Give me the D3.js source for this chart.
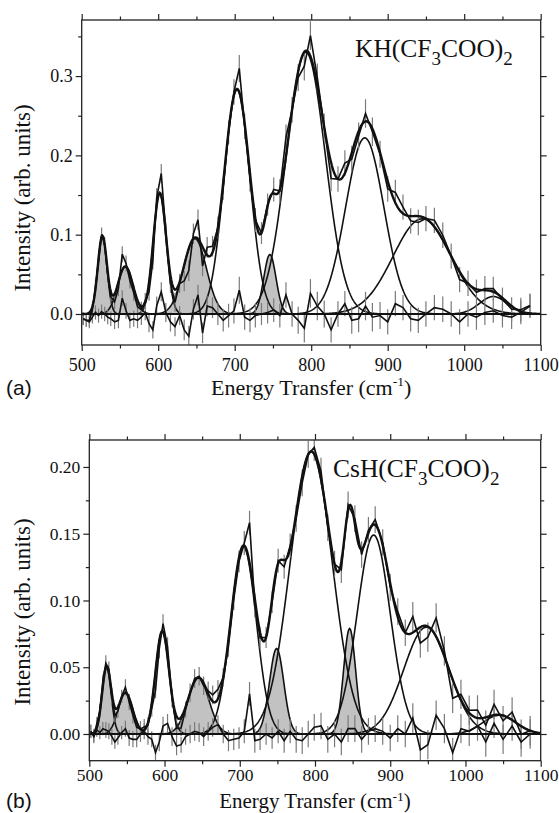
<!DOCTYPE html>
<html><head><meta charset="utf-8">
<script src="https://cdn.jsdelivr.net/npm/d3@7"></script>
<style>body{margin:0;background:#fff}svg{display:block}</style>
</head><body>
<svg id="c" width="559" height="813"></svg>
<script>
// ---------- data ----------
const energies = [502,506,510,514,518,522,526,530,534,538,543,548,553,558,563,568,573,578,583,588,593,598,
  604,610,616,622,628,634,640,646,652,658,664,671,678,685,692,699,
  706,713,720,727,735,743,751,759,767,775,783,791,799,
  808,817,826,835,844,853,862,871,880,890,900,
  910,920,930,940,950,961,972,983,994,
  1005,1016,1027,1038,1050,1062,1074,1086];

// Panel (a) KH(CF3COO)2 : fitted Gaussian components
const centersA = [527, 557, 602, 648, 703, 746, 793, 870, 945, 1038];
const heightsA = [0.098, 0.060, 0.152, 0.095, 0.283, 0.075, 0.330, 0.222, 0.120, 0.022];
const widthsA  = [6, 10, 8.5, 15, 17, 8, 25.5, 25, 38, 18];
const shadedA  = [1, 1, 0, 1, 0, 1, 0, 0, 0, 0];
const residA = [-0.006,-0.008,-0.010,-0.004,0.002,-0.002,0.003,0.000,-0.004,-0.006,-0.010,-0.008,0.020,0.004,-0.008,-0.006,-0.008,-0.004,0.002,-0.012,-0.020,0.010,
  0.028,0.002,-0.010,-0.016,-0.002,-0.020,-0.028,0.006,0.024,-0.024,0.010,0.008,0.000,-0.008,-0.002,0.004,
  0.030,-0.004,-0.008,-0.002,0.000,0.002,0.005,-0.002,0.024,0.000,-0.008,-0.018,0.026,
  0.010,0.000,-0.020,0.000,0.013,-0.008,-0.006,0.010,-0.004,-0.002,-0.010,
  0.013,0.008,-0.006,-0.008,0.000,0.008,0.006,0.000,-0.010,
  0.000,-0.004,0.002,0.004,-0.002,-0.004,0.002,0.010];
const errA = [0.008,0.008,0.008,0.008,0.009,0.009,0.009,0.009,0.009,0.009,0.009,0.010,0.010,0.010,0.010,0.010,0.010,0.010,0.010,0.011,0.011,0.012,
  0.012,0.012,0.012,0.012,0.012,0.013,0.013,0.013,0.013,0.013,0.013,0.013,0.014,0.014,0.015,0.016,
  0.017,0.016,0.015,0.015,0.014,0.014,0.015,0.015,0.016,0.016,0.017,0.018,0.018,
  0.018,0.017,0.016,0.016,0.016,0.017,0.017,0.018,0.018,0.017,0.016,
  0.016,0.016,0.016,0.016,0.016,0.016,0.016,0.016,0.016,
  0.016,0.016,0.016,0.015,0.015,0.015,0.015,0.015];

// Panel (b) CsH(CF3COO)2
const centersB = [523, 548, 597, 645, 705, 749, 795, 846, 878, 948, 1045];
const heightsB = [0.050, 0.031, 0.077, 0.042, 0.140, 0.064, 0.2115, 0.079, 0.149, 0.080, 0.014];
const widthsB  = [6, 9.5, 9, 14, 17, 9.5, 28, 8, 22, 30, 22];
const shadedB  = [1, 1, 0, 1, 0, 1, 0, 1, 0, 0, 0];
const residB = [0.002,-0.002,0.003,0.001,0.004,0.003,0.002,-0.002,-0.006,-0.003,0.001,0.004,-0.003,-0.004,-0.004,0.000,0.002,-0.002,-0.004,-0.014,-0.006,0.006,
  0.008,-0.002,-0.009,-0.008,-0.002,0.000,0.002,0.001,-0.002,0.002,0.005,0.007,0.000,-0.005,-0.004,-0.003,
  0.002,0.030,-0.005,-0.004,0.000,-0.003,0.002,-0.005,0.002,-0.004,-0.005,0.000,0.005,
  0.006,-0.004,0.000,-0.006,0.004,0.004,-0.004,0.002,0.004,0.002,-0.003,
  0.004,0.000,0.012,-0.012,-0.008,0.014,0.004,-0.014,0.004,
  0.002,0.006,-0.006,0.008,-0.004,0.006,-0.006,0.000];
const errB = [0.005,0.005,0.005,0.005,0.005,0.006,0.006,0.006,0.005,0.005,0.005,0.006,0.006,0.006,0.006,0.006,0.006,0.006,0.006,0.006,0.007,0.007,
  0.007,0.007,0.007,0.006,0.006,0.007,0.007,0.007,0.007,0.007,0.007,0.007,0.007,0.008,0.008,0.008,
  0.009,0.009,0.009,0.008,0.008,0.008,0.009,0.009,0.009,0.010,0.010,0.010,0.010,
  0.010,0.010,0.010,0.010,0.010,0.010,0.010,0.010,0.010,0.010,0.010,
  0.010,0.010,0.011,0.011,0.011,0.011,0.011,0.011,0.011,
  0.011,0.011,0.011,0.011,0.011,0.011,0.011,0.011];

// ticks
const xMajor = [500,600,700,800,900,1000,1100];
const xMajorLabels = ["500","600","700","800","900","1000","1100"];
const xMinor = [550,650,750,850,950,1050];
const yMajorA = [0,0.1,0.2,0.3], yMajorLabelsA = ["0.0","0.1","0.2","0.3"], yMinorA = [0.05,0.15,0.25,0.35];
const yMajorB = [0,0.05,0.10,0.15,0.20], yMajorLabelsB = ["0.00","0.05","0.10","0.15","0.20"], yMinorB = [0.025,0.075,0.125,0.175];

// ---------- drawing ----------
const svg = d3.select("#c");
const SERIF = "'Liberation Serif','Times New Roman',serif";

function drawPanel(cfg){
  const x = d3.scaleLinear().domain([500,1100]).range([cfg.left, cfg.right]);
  const y = d3.scaleLinear().domain(cfg.ydom).range([cfg.bottom, cfg.top]);
  const g = svg.append("g");
  const clipId = "clip"+cfg.id;
  svg.append("clipPath").attr("id", clipId).append("rect")
    .attr("x", cfg.left).attr("y", cfg.top).attr("width", cfg.right-cfg.left).attr("height", cfg.bottom-cfg.top);
  const pg = g.append("g").attr("clip-path", `url(#${clipId})`);

  const comps = cfg.centers.map((c,i)=>({c, h:cfg.heights[i], s:cfg.widths[i], shaded:cfg.shaded[i]}));
  const gauss = (p,E)=> p.h*Math.exp(-((E-p.c)*(E-p.c))/(2*p.s*p.s));
  const fit = E => d3.sum(comps, p=>gauss(p,E));
  const curveE = d3.range(500, 1100.01, 1);
  const line = d3.line().x(d=>x(d[0])).y(d=>y(d[1]));

  // shaded components
  comps.filter(p=>p.shaded).forEach(p=>{
    const pts = curveE.filter(E=>Math.abs(E-p.c)<5*p.s).map(E=>[E,gauss(p,E)]);
    pg.append("path").datum(pts)
      .attr("d", d3.area().x(d=>x(d[0])).y0(y(0)).y1(d=>y(d[1])))
      .attr("fill","#c2c2c2").attr("stroke","none");
  });
  // component outlines
  comps.forEach(p=>{
    pg.append("path").datum(curveE.map(E=>[E,gauss(p,E)]))
      .attr("d", line).attr("fill","none").attr("stroke","#111").attr("stroke-width",1.6);
  });

  const data = energies.map((E,i)=>({E, v: fit(E)+cfg.resid[i], r: cfg.resid[i], e: cfg.err[i]}));
  // error bars (data and residuals)
  pg.append("g").selectAll("line").data(data).join("line")
    .attr("x1",d=>x(d.E)).attr("x2",d=>x(d.E))
    .attr("y1",d=>y(d.v-d.e)).attr("y2",d=>y(d.v+d.e))
    .attr("stroke","#7a7a7a").attr("stroke-width",1.2);
  pg.append("g").selectAll("line").data(data).join("line")
    .attr("x1",d=>x(d.E)).attr("x2",d=>x(d.E))
    .attr("y1",d=>y(d.r-d.e)).attr("y2",d=>y(d.r+d.e))
    .attr("stroke","#7a7a7a").attr("stroke-width",1.2);

  // zero line
  pg.append("line").attr("x1",cfg.left).attr("x2",cfg.right).attr("y1",y(0)).attr("y2",y(0))
    .attr("stroke","#111").attr("stroke-width",1.8);
  // data line
  pg.append("path").datum(data.map(d=>[d.E,d.v])).attr("d",line)
    .attr("fill","none").attr("stroke","#111").attr("stroke-width",1.6);
  // residual line
  pg.append("path").datum(data.map(d=>[d.E,d.r])).attr("d",line)
    .attr("fill","none").attr("stroke","#111").attr("stroke-width",1.6);
  // total fit
  pg.append("path").datum(curveE.map(E=>[E,fit(E)])).attr("d",line)
    .attr("fill","none").attr("stroke","#111").attr("stroke-width",2.4);

  // frame
  g.append("rect").attr("x",cfg.left).attr("y",cfg.top).attr("width",cfg.right-cfg.left).attr("height",cfg.bottom-cfg.top)
    .attr("fill","none").attr("stroke","#222").attr("stroke-width",1.3);

  // axes
  const styleAxis = sel => { sel.attr("font-family",SERIF).attr("font-size",cfg.tickFont);
    sel.select(".domain").remove(); sel.selectAll(".tick line").attr("stroke","#222").attr("stroke-width",1.2);
    sel.selectAll("text").attr("font-family",SERIF).attr("font-size",cfg.tickFont).attr("fill","#111"); };
  const ax = (gen, tr) => g.append("g").attr("transform",tr).call(gen).call(styleAxis);
  ax(d3.axisBottom(x).tickValues(xMajor).tickSize(6).tickPadding(cfg.xpad).tickFormat((d,i)=>xMajorLabels[i]), `translate(0,${cfg.bottom})`);
  ax(d3.axisBottom(x).tickValues(xMinor).tickSize(3.5).tickFormat(""), `translate(0,${cfg.bottom})`);
  ax(d3.axisTop(x).tickValues(xMajor).tickSize(6).tickFormat(""), `translate(0,${cfg.top})`);
  ax(d3.axisTop(x).tickValues(xMinor).tickSize(3.5).tickFormat(""), `translate(0,${cfg.top})`);
  ax(d3.axisLeft(y).tickValues(cfg.yMajor).tickSize(6).tickPadding(3).tickFormat((d,i)=>cfg.yLabels[i]), `translate(${cfg.left},0)`);
  ax(d3.axisLeft(y).tickValues(cfg.yMinor).tickSize(3.5).tickFormat(""), `translate(${cfg.left},0)`);
  ax(d3.axisRight(y).tickValues(cfg.yMajor).tickSize(6).tickFormat(""), `translate(${cfg.right},0)`);
  ax(d3.axisRight(y).tickValues(cfg.yMinor).tickSize(3.5).tickFormat(""), `translate(${cfg.right},0)`);

  // axis titles
  g.append("text").attr("transform",`translate(${cfg.ytitleX},${cfg.ytitleY}) rotate(-90)`)
    .attr("text-anchor","middle").attr("font-family",SERIF).attr("font-size",23).attr("fill","#111")
    .text("Intensity (arb. units)");
  const xt = g.append("text").attr("x",(cfg.left+cfg.right)/2).attr("y",cfg.xtitleY)
    .attr("text-anchor","middle").attr("font-family",SERIF).attr("font-size",cfg.titleFont).attr("fill","#111");
  xt.append("tspan").text("Energy Transfer (cm");
  xt.append("tspan").attr("font-size",13.5).attr("dy",-cfg.supRaise).text("-1");
  xt.append("tspan").attr("dy",cfg.supRaise).text(")");

  // panel letter
  g.append("text").attr("x",cfg.letterX).attr("y",cfg.xtitleY).attr("font-family","'Liberation Sans',Arial,sans-serif")
    .attr("font-size",21).attr("fill","#111").text(cfg.letter);

  // compound label
  const lab = g.append("text").attr("x",cfg.labX).attr("y",cfg.labY).attr("font-family",SERIF)
    .attr("font-size",25.5).attr("fill","#111");
  lab.append("tspan").text(cfg.labA);
  lab.append("tspan").attr("font-size",19).attr("dy",8).text("3");
  lab.append("tspan").attr("dy",-8).text("COO)");
  lab.append("tspan").attr("font-size",19).attr("dy",8).text("2");
}

drawPanel({id:"a", left:81.7, right:540.7, top:20, bottom:345, ydom:[-0.0391,0.3707],
  centers:centersA, heights:heightsA, widths:widthsA, shaded:shadedA, resid:residA, err:errA,
  yMajor:yMajorA, yLabels:yMajorLabelsA, yMinor:yMinorA, xpad:7, tickFont:18, titleFont:22, supRaise:9,
  ytitleX:30, ytitleY:198, xtitleY:395, letter:"(a)", letterX:6,
  labX:355, labY:57, labA:"KH(CF"});

drawPanel({id:"b", left:89.3, right:540.7, top:440, bottom:760.7, ydom:[-0.02,0.2202],
  centers:centersB, heights:heightsB, widths:widthsB, shaded:shadedB, resid:residB, err:errB,
  yMajor:yMajorB, yLabels:yMajorLabelsB, yMinor:yMinorB, xpad:2, tickFont:17.5, titleFont:21, supRaise:7,
  ytitleX:30, ytitleY:612, xtitleY:808, letter:"(b)", letterX:6,
  labX:333, labY:477, labA:"CsH(CF"});
</script>
</body></html>
